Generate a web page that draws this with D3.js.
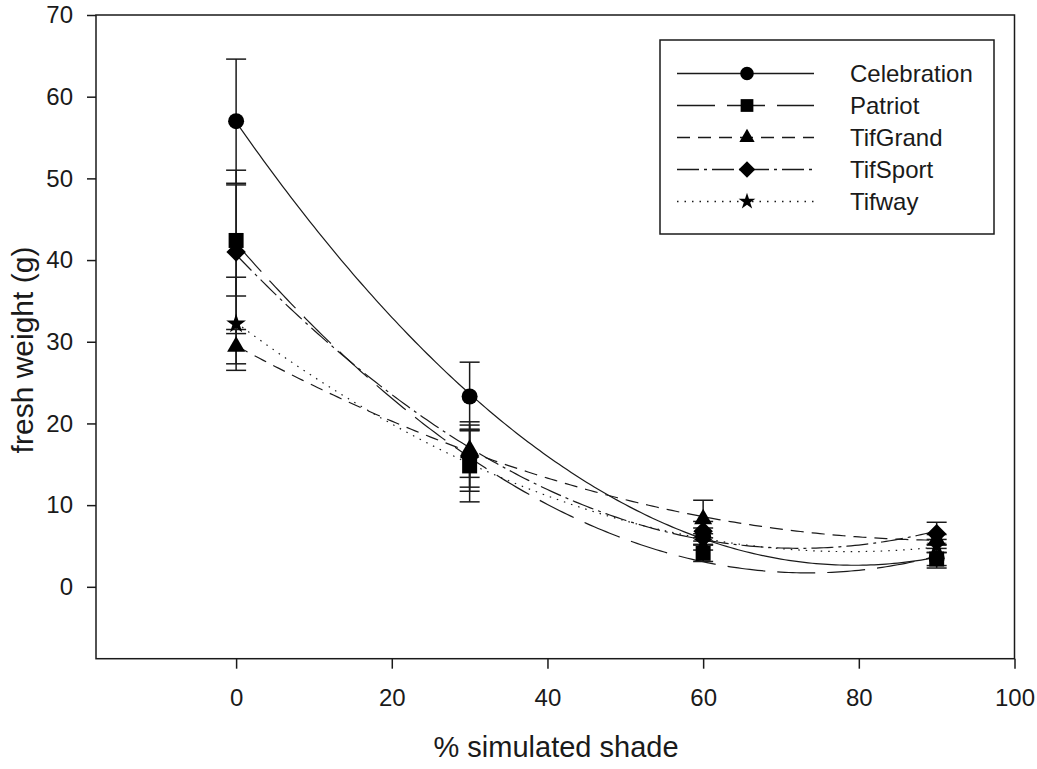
<!DOCTYPE html>
<html><head><meta charset="utf-8">
<script src="https://cdn.jsdelivr.net/npm/d3@7"></script>
<style>body{margin:0;background:#fff}svg{display:block}</style>
</head><body><svg id="c" width="1037" height="769"></svg>
<script>
// ---- data ----
const shade = [0, 30, 60, 90];
const seriesNames = ["Celebration", "Patriot", "TifGrand", "TifSport", "Tifway"];
const celebration = [57.0, 23.3, 6.2, 3.5];
const patriot     = [42.4, 14.8, 4.1, 3.4];
const tifGrand    = [29.4, 16.8, 8.3, 5.8];
const tifSport    = [41.0, 16.0, 6.8, 6.5];
const tifway      = [32.2, 15.5, 5.5, 5.0];
const celebrationErr = [7.6, 4.2, 1.0, 1.2];
const patriotErr     = [6.8, 4.4, 1.0, 0.8];
const tifGrandErr    = [2.1, 3.4, 2.3, 0.6];
const tifSportErr    = [10.0, 3.8, 1.2, 1.4];
const tifwayErr      = [5.7, 3.8, 1.0, 0.8];
const xTicks = [0, 20, 40, 60, 80, 100];
const yTicks = [0, 10, 20, 30, 40, 50, 60, 70];
const xTitle = "% simulated shade";
const yTitle = "fresh weight (g)";

// ---- styles ----
const values = [celebration, patriot, tifGrand, tifSport, tifway];
const errs = [celebrationErr, patriotErr, tifGrandErr, tifSportErr, tifwayErr];
const dashes = [null, "38,12", "13,8", "22,5,3,5", "1.5,6"];
const ink = "#1a1a1a";
const font = "'Liberation Sans', Arial, sans-serif";

const svg = d3.select("#c");
const x = d3.scaleLinear().domain([-18, 100]).range([96, 1014.5]);
const y = d3.scaleLinear().domain([-8.8, 70]).range([658.7, 15]);

// symbols
function markerPath(i, scale) {
  const k = scale || 1;
  switch (i) {
    case 0: return d3.symbol(d3.symbolCircle, 201 * k * k)();
    case 1: return d3.symbol(d3.symbolSquare, 225 * k * k)();
    case 2: return d3.symbol(d3.symbolTriangle, 140 * k * k)();
    case 3: return d3.symbol(d3.symbolSquare, 190 * k * k)();
    case 4: return d3.symbol(d3.symbolStar, 120 * k * k)();
  }
}
const markerRot = [0, 0, 0, 45, 0];

// quadratic least squares fit
function quadFit(xs, ys) {
  let S = [0,0,0,0,0], T = [0,0,0];
  xs.forEach((xv, i) => {
    for (let p = 0; p < 5; p++) S[p] += Math.pow(xv, p);
    for (let p = 0; p < 3; p++) T[p] += Math.pow(xv, p) * ys[i];
  });
  const A = [[S[0],S[1],S[2],T[0]],[S[1],S[2],S[3],T[1]],[S[2],S[3],S[4],T[2]]];
  for (let c = 0; c < 3; c++) {
    for (let r = c + 1; r < 3; r++) {
      const f = A[r][c] / A[c][c];
      for (let k = c; k < 4; k++) A[r][k] -= f * A[c][k];
    }
  }
  const sol = [0,0,0];
  for (let r = 2; r >= 0; r--) {
    let s = A[r][3];
    for (let k = r + 1; k < 3; k++) s -= A[r][k] * sol[k];
    sol[r] = s / A[r][r];
  }
  return xv => sol[0] + sol[1] * xv + sol[2] * xv * xv;
}

// frame
svg.append("rect").attr("x", x(-18)).attr("y", y(70))
  .attr("width", x(100) - x(-18)).attr("height", y(-8.8) - y(70))
  .attr("fill", "none").attr("stroke", ink).attr("stroke-width", 1.5);

// axes
const yAxis = svg.append("g").attr("transform", `translate(${x(-18)},0)`)
  .call(d3.axisLeft(y).tickValues(yTicks).tickSize(9).tickPadding(14).tickFormat(d3.format("d")));
const xAxis = svg.append("g").attr("transform", `translate(0,${y(-8.8)})`)
  .call(d3.axisBottom(x).tickValues(xTicks).tickSize(10).tickPadding(20).tickFormat(d3.format("d")));
[yAxis, xAxis].forEach(g => {
  g.select(".domain").remove();
  g.selectAll(".tick line").attr("stroke", ink).attr("stroke-width", 1.5);
  g.selectAll(".tick text").attr("fill", ink).style("font-family", font).style("font-size", "24px");
});

// titles
svg.append("text").attr("x", 556).attr("y", 757).attr("text-anchor", "middle")
  .style("font-family", font).style("font-size", "29px").attr("fill", ink).text(xTitle);
svg.append("text").attr("transform", `translate(33,350) rotate(-90)`).attr("text-anchor", "middle")
  .style("font-family", font).style("font-size", "30px").attr("fill", ink).text(yTitle);

// curves
const line = d3.line().x(d => x(d[0])).y(d => y(d[1]));
values.forEach((vals, i) => {
  const f = quadFit(shade, vals);
  const pts = d3.range(0, 90.01, 0.5).map(v => [v, f(v)]);
  svg.append("path").attr("d", line(pts)).attr("fill", "none")
    .attr("stroke", ink).attr("stroke-width", 1.2)
    .attr("stroke-dasharray", dashes[i]);
});

// error bars
values.forEach((vals, i) => {
  const g = svg.append("g");
  vals.forEach((v, j) => {
    const e = errs[i][j];
    const cx = x(shade[j]);
    g.append("line").attr("x1", cx).attr("x2", cx).attr("y1", y(v + e)).attr("y2", y(v - e))
      .attr("stroke", ink).attr("stroke-width", 1.5);
    [v + e, v - e].forEach(t => g.append("line").attr("x1", cx - 10).attr("x2", cx + 10)
      .attr("y1", y(t)).attr("y2", y(t)).attr("stroke", ink).attr("stroke-width", 1.5));
  });
});

// markers
values.forEach((vals, i) => {
  svg.append("g").selectAll("path").data(vals).join("path")
    .attr("d", markerPath(i))
    .attr("transform", (d, j) => `translate(${x(shade[j])},${y(d)}) rotate(${markerRot[i]})`)
    .attr("fill", "#000");
});

// legend
const lg = svg.append("g");
lg.append("rect").attr("x", 660).attr("y", 40).attr("width", 334).attr("height", 194)
  .attr("fill", "#fff").attr("stroke", ink).attr("stroke-width", 1.5);
const rowY = d3.scaleLinear().domain([0, 4]).range([73.5, 201.5]);
seriesNames.forEach((name, i) => {
  const ry = rowY(i);
  lg.append("line").attr("x1", 677).attr("x2", 814).attr("y1", ry).attr("y2", ry)
    .attr("stroke", ink).attr("stroke-width", 1.3).attr("stroke-dasharray", dashes[i]);
  lg.append("path").attr("d", markerPath(i, 0.85))
    .attr("transform", `translate(747,${ry}) rotate(${markerRot[i]})`).attr("fill", "#000");
  lg.append("text").attr("x", 850).attr("y", ry + 8.5).style("font-family", font)
    .style("font-size", "24px").attr("fill", ink).text(name);
});
</script>
</body></html>
